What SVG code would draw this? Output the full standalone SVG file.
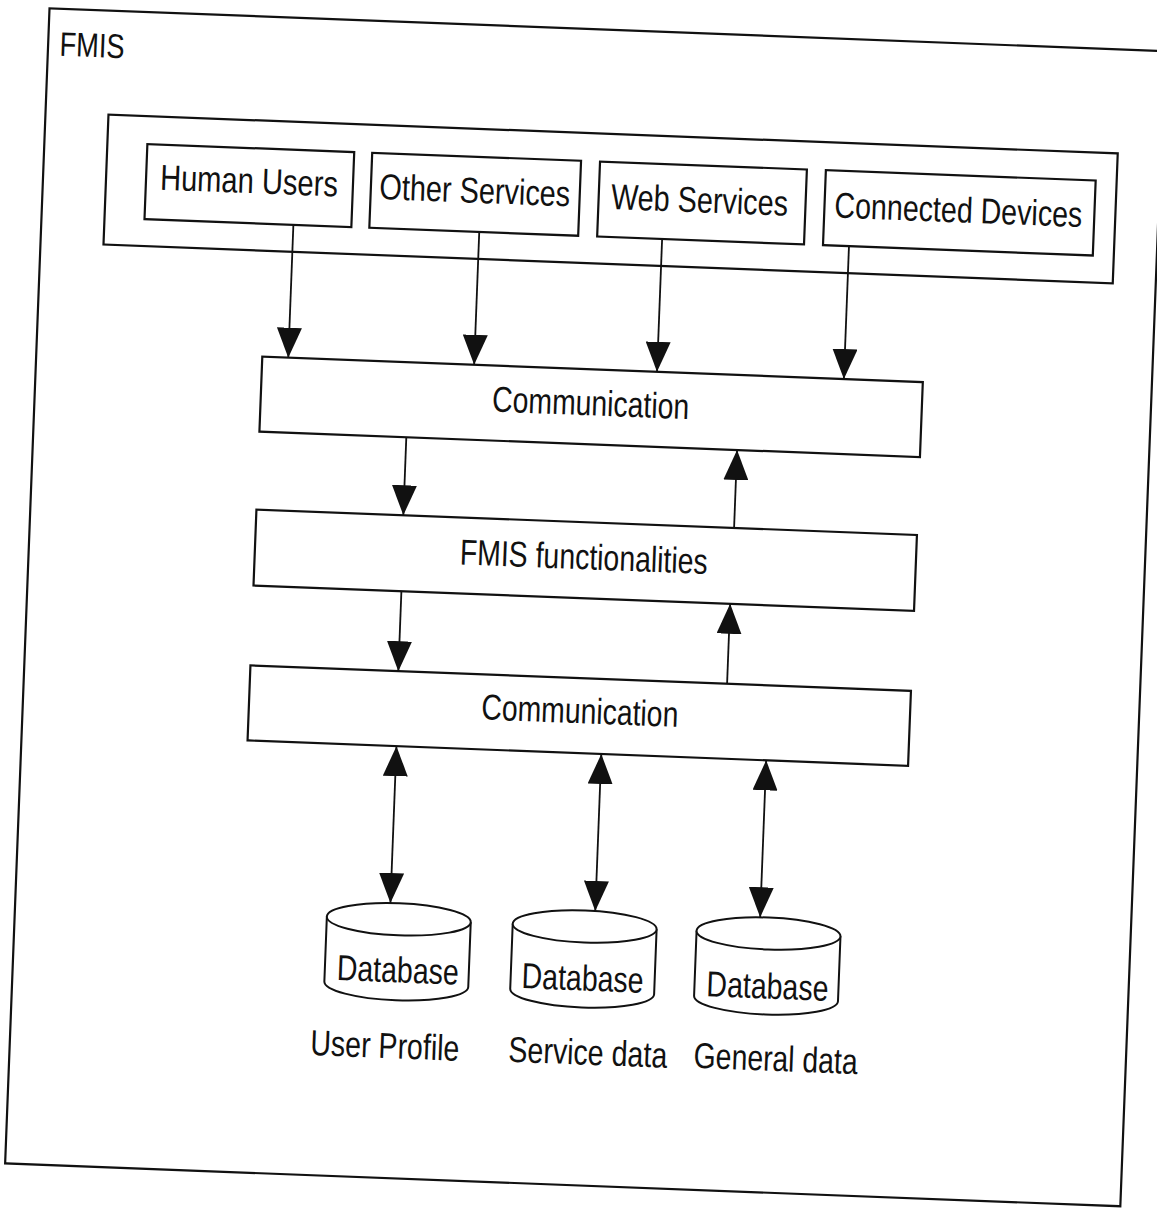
<svg xmlns="http://www.w3.org/2000/svg" width="1157" height="1210" viewBox="0 0 1157 1210">
<style>
.box{fill:none;stroke:#111;stroke-width:2.2}
.t{font-family:"Liberation Sans",Arial,sans-serif;font-size:36px;fill:#111;text-anchor:middle}
.c{stroke:#111;stroke-width:1.8;fill:none}
.db{fill:#fff;stroke:#111;stroke-width:2}
</style>
<defs>
<marker id="ah" markerUnits="userSpaceOnUse" markerWidth="30" markerHeight="25" viewBox="0 0 30 25" refX="30" refY="12.5" orient="auto-start-reverse">
<path d="M0,0 L30,12.5 L0,25 z" fill="#111"/>
</marker>
</defs>
<rect width="1157" height="1210" fill="#fff"/>
<g transform="rotate(2.2 578 605)">
<g id="fmis">
<rect class="box" x="27" y="29" width="1116" height="1156"/>
<text class="t" x="71" y="76" textLength="65" lengthAdjust="spacingAndGlyphs" style="font-size:34px">FMIS</text>
</g>
<g id="sources">
<rect class="box" x="90" y="133" width="1010" height="130"/>
</g>
<g id="human-users">
<rect class="box" x="130" y="161" width="207" height="75"/>
<text class="t" x="233" y="206" textLength="178" lengthAdjust="spacingAndGlyphs">Human Users</text>
</g>
<g id="other-services">
<rect class="box" x="355" y="161" width="209" height="75"/>
<text class="t" x="459" y="207" textLength="191" lengthAdjust="spacingAndGlyphs">Other Services</text>
</g>
<g id="web-services">
<rect class="box" x="583" y="161" width="207" height="75"/>
<text class="t" x="684" y="208" textLength="177" lengthAdjust="spacingAndGlyphs">Web Services</text>
</g>
<g id="connected-devices">
<rect class="box" x="809" y="161" width="270" height="75"/>
<text class="t" x="943" y="208" textLength="248" lengthAdjust="spacingAndGlyphs">Connected Devices</text>
</g>
<g id="communication-top">
<rect class="box" x="253" y="369" width="661" height="75"/>
<text class="t" x="583" y="415" textLength="197" lengthAdjust="spacingAndGlyphs">Communication</text>
</g>
<g id="functionalities">
<rect class="box" x="253" y="522" width="661" height="76"/>
<text class="t" x="582" y="569" textLength="248" lengthAdjust="spacingAndGlyphs">FMIS functionalities</text>
</g>
<g id="communication-bottom">
<rect class="box" x="253" y="678" width="661" height="75"/>
<text class="t" x="584" y="723" textLength="197" lengthAdjust="spacingAndGlyphs">Communication</text>
</g>
<g id="db-user">
<path class="db" d="M339,926 L339,991 A72,16 0 0 0 483,991 L483,926"/>
<ellipse class="db" cx="411" cy="926" rx="72" ry="16"/>
<text class="t" x="412" y="989" textLength="122" lengthAdjust="spacingAndGlyphs">Database</text>
<text class="t" x="402" y="1065" textLength="149" lengthAdjust="spacingAndGlyphs">User Profile</text>
</g>
<g id="db-service">
<path class="db" d="M525,926 L525,991 A72,16 0 0 0 669,991 L669,926"/>
<ellipse class="db" cx="597" cy="926" rx="72" ry="16"/>
<text class="t" x="597" y="990" textLength="122" lengthAdjust="spacingAndGlyphs">Database</text>
<text class="t" x="605" y="1064" textLength="159" lengthAdjust="spacingAndGlyphs">Service data</text>
</g>
<g id="db-general">
<path class="db" d="M709,926 L709,991 A72,16 0 0 0 853,991 L853,926"/>
<ellipse class="db" cx="781" cy="926" rx="72" ry="16"/>
<text class="t" x="782" y="991" textLength="122" lengthAdjust="spacingAndGlyphs">Database</text>
<text class="t" x="793" y="1063" textLength="164" lengthAdjust="spacingAndGlyphs">General data</text>
</g>
<g id="connectors">
<line class="c" x1="279" y1="236" x2="279" y2="369" marker-end="url(#ah)"/>
<line class="c" x1="465" y1="236" x2="465" y2="369" marker-end="url(#ah)"/>
<line class="c" x1="648" y1="236" x2="648" y2="369" marker-end="url(#ah)"/>
<line class="c" x1="835" y1="236" x2="835" y2="369" marker-end="url(#ah)"/>
<line class="c" x1="400" y1="444" x2="400" y2="522" marker-end="url(#ah)"/>
<line class="c" x1="731" y1="522" x2="731" y2="444" marker-end="url(#ah)"/>
<line class="c" x1="401" y1="598" x2="401" y2="678" marker-end="url(#ah)"/>
<line class="c" x1="730" y1="678" x2="730" y2="598" marker-end="url(#ah)"/>
<line class="c" x1="402" y1="753" x2="402" y2="910" marker-start="url(#ah)" marker-end="url(#ah)"/>
<line class="c" x1="607" y1="753" x2="607" y2="910" marker-start="url(#ah)" marker-end="url(#ah)"/>
<line class="c" x1="772" y1="753" x2="772" y2="910" marker-start="url(#ah)" marker-end="url(#ah)"/>
</g>
</g>
</svg>
